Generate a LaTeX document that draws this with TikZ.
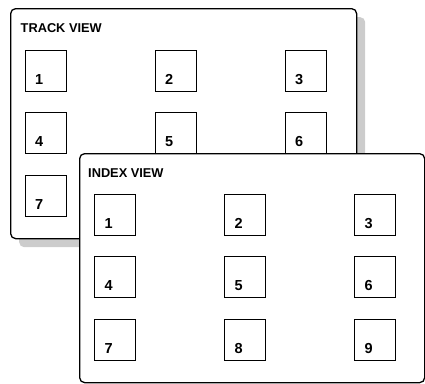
\documentclass[tikz,border=0pt]{standalone}
\usepackage{fontspec}
\setmainfont{Liberation Sans}
\begin{document}
\begin{tikzpicture}[x=1pt,y=-1pt,
  panel/.style={draw=black, line width=1.3pt, fill=white, rounded corners=5pt, inner sep=0pt, anchor=north west},
  shadowbox/.style={fill=black!20, draw=none, rounded corners=5pt, inner sep=0pt, anchor=north west},
  cell/.style={draw=black, line width=1.2pt, fill=white, inner sep=0pt, minimum size=41pt, anchor=north west},
  num/.style={font=\fontsize{14.5}{15}\selectfont\bfseries, inner sep=0pt, anchor=base west},
  ttl/.style={font=\fontsize{12.8}{14}\selectfont\bfseries, inner sep=0pt, anchor=base west}]
\useasboundingbox (0,0) rectangle (425,383);
% track view
\node[shadowbox, minimum width=346pt, minimum height=230pt] (tshadow) at (19,17) {};
\node[panel, minimum width=346pt, minimum height=230pt] (track) at (10,8) {};
\node[ttl] (ttitle) at (20.5,32.5) {TRACK VIEW};
\foreach \c/\x in {0/25,1/155,2/285}{
  \foreach \r/\y in {0/50,1/112,2/174.5}{
    \pgfmathtruncatemacro{\n}{\r*3+\c+1}
    \node[cell] (t\n) at (\x,\y) {};
    \node[num] (tl\n) at ([xshift=10pt,yshift=7.5pt]t\n.south west) {\n};
  }
}
% index view
\node[panel, minimum width=345pt, minimum height=229pt] (index) at (79,153) {};
\node[ttl] (ititle) at (88,177) {INDEX VIEW};
\foreach \c/\x in {0/94,1/224,2/354}{
  \foreach \r/\y in {0/194,1/256,2/318.5}{
    \pgfmathtruncatemacro{\n}{\r*3+\c+1}
    \node[cell] (i\n) at (\x,\y) {};
    \node[num] (il\n) at ([xshift=10.5pt,yshift=7.5pt]i\n.south west) {\n};
  }
}
\end{tikzpicture}
\end{document}
